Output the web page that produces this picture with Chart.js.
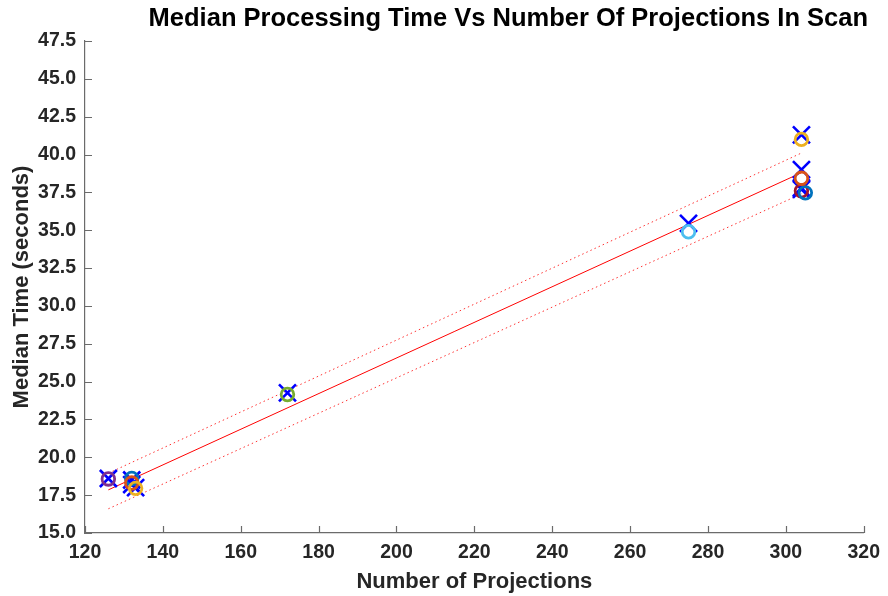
<!DOCTYPE html>
<html>
<head>
<meta charset="utf-8">
<script src="https://cdn.jsdelivr.net/npm/chart.js@4.4.1/dist/chart.umd.min.js"></script>
<style>
    html, body { margin: 0; padding: 0; background: #ffffff; }
    #wrap { width: 888px; height: 596px; position: relative; }
</style>
</head>
<body>
<div id="wrap"><canvas id="timeChart"></canvas></div>
<script>
// median processing time per scan (circles) and the blue cross measurements
const projections = [132, 132, 133, 126, 172, 275, 304, 305, 304, 304];
const medianTimes = [18.6, 18.3, 17.95, 18.57, 24.15, 34.9, 37.6, 37.47, 38.43, 41.0];
const circleColors = ["#0072BD", "#D95319", "#EDB120", "#7E2F8E", "#77AC30", "#4DBEEE", "#A2142F", "#0072BD", "#D95319", "#EDB120"];
const crossX = [132, 132, 133, 126, 172, 275, 304, 304, 304, 304];
const crossTimes = [18.5, 18.2, 18.0, 18.6, 24.26, 35.45, 37.8, 37.7, 39.0, 41.3];

// fitted line and its bounds, read at the two ends
const fitX = [126, 304];
const fitY = [17.85, 38.8];
const upperY = [18.95, 40.1];
const lowerY = [16.6, 37.4];

const xTicks = [120, 140, 160, 180, 200, 220, 240, 260, 280, 300, 320];
const yTicks = [15, 17.5, 20, 22.5, 25, 27.5, 30, 32.5, 35, 37.5, 40, 42.5, 45, 47.5];

const textColor = "#262626";
const fontFamily = "'Liberation Sans', Arial, sans-serif";

function toPoints(xs, ys) {
    return xs.map((x, i) => ({ x: x, y: ys[i] }));
}

// MATLAB style inward tick marks
const inwardTicks = {
    id: "inwardTicks",
    afterDraw(chart) {
        const ctx = chart.ctx;
        const area = chart.chartArea;
        const xs = chart.scales.x;
        const ys = chart.scales.y;
        ctx.save();
        ctx.strokeStyle = "#6b6b6b";
        ctx.lineWidth = 1.2;
        ctx.beginPath();
        xTicks.forEach(v => {
            const px = Math.round(xs.getPixelForValue(v)) + 0.5;
            ctx.moveTo(px, area.bottom);
            ctx.lineTo(px, area.bottom - 7);
        });
        yTicks.forEach(v => {
            const py = Math.round(ys.getPixelForValue(v)) + 0.5;
            ctx.moveTo(area.left, py);
            ctx.lineTo(area.left + 7, py);
        });
        ctx.stroke();
        ctx.restore();
    }
};

const getChart = document.getElementById("timeChart");

const timeChartInstance = new Chart(getChart, {
    type: "scatter",
    data: {
        datasets: [
            {
                label: "Median",
                order: 0,
                data: toPoints(projections, medianTimes),
                pointStyle: "circle",
                pointRadius: 6.3,
                pointBorderWidth: 2.8,
                borderColor: circleColors,
                pointBorderColor: circleColors,
                backgroundColor: "rgba(0,0,0,0)",
                pointBackgroundColor: "rgba(0,0,0,0)",
            },
            {
                label: "Cross",
                order: 1,
                data: toPoints(crossX, crossTimes),
                pointStyle: "crossRot",
                pointRadius: 12,
                pointBorderWidth: 2.6,
                borderColor: "#0000FF",
                pointBorderColor: "#0000FF",
            },
            {
                type: "line",
                label: "Fit",
                order: 2,
                data: toPoints(fitX, fitY),
                borderColor: "#FF0000",
                borderWidth: 1,
                pointRadius: 0,
                fill: false,
            },
            {
                type: "line",
                label: "Upper",
                order: 3,
                data: toPoints(fitX, upperY),
                borderColor: "#FF3333",
                borderWidth: 1,
                borderDash: [1.5, 3],
                pointRadius: 0,
                fill: false,
            },
            {
                type: "line",
                label: "Lower",
                order: 4,
                data: toPoints(fitX, lowerY),
                borderColor: "#FF3333",
                borderWidth: 1,
                borderDash: [1.5, 3],
                pointRadius: 0,
                fill: false,
            },
        ],
    },
    options: {
        responsive: true,
        maintainAspectRatio: false,
        animation: false,
        layout: {
            padding: { left: 0, right: 20, top: 0, bottom: 0 }
        },
        plugins: {
            legend: { display: false },
            tooltip: { enabled: false },
            title: {
                display: true,
                align: "end",
                text: "Median Processing Time Vs Number Of Projections In Scan",
                color: "#000000",
                font: { family: fontFamily, size: 25.5, weight: "bold", lineHeight: 1.2 },
                padding: { top: 4, bottom: 6.4 }
            }
        },
        scales: {
            x: {
                type: "linear",
                min: 120,
                max: 320,
                afterBuildTicks: scale => { scale.ticks = xTicks.map(v => ({ value: v })); },
                afterFit: scale => { scale.height = 63; },
                grid: { display: false, drawTicks: false },
                border: { display: true, color: "#6b6b6b", width: 1.2 },
                ticks: {
                    color: textColor,
                    padding: 8,
                    maxRotation: 0,
                    font: { family: fontFamily, size: 19.5, weight: "bold" }
                },
                title: {
                    display: true,
                    text: "Number of Projections",
                    color: textColor,
                    padding: { top: 0, bottom: 1 },
                    font: { family: fontFamily, size: 22, weight: "bold", lineHeight: 1.2 }
                }
            },
            y: {
                type: "linear",
                min: 15,
                max: 47.5,
                afterBuildTicks: scale => { scale.ticks = yTicks.map(v => ({ value: v })); },
                afterFit: scale => { scale.width = 85; },
                grid: { display: false, drawTicks: false },
                border: { display: true, color: "#6b6b6b", width: 1.2 },
                ticks: {
                    color: textColor,
                    padding: 9,
                    callback: v => Number(v).toFixed(1),
                    font: { family: fontFamily, size: 19.5, weight: "bold" }
                },
                title: {
                    display: true,
                    text: "Median Time (seconds)",
                    color: textColor,
                    padding: { top: 9, bottom: 0 },
                    font: { family: fontFamily, size: 22, weight: "bold", lineHeight: 1.2 }
                }
            }
        }
    },
    plugins: [inwardTicks]
});
</script>
</body>
</html>
